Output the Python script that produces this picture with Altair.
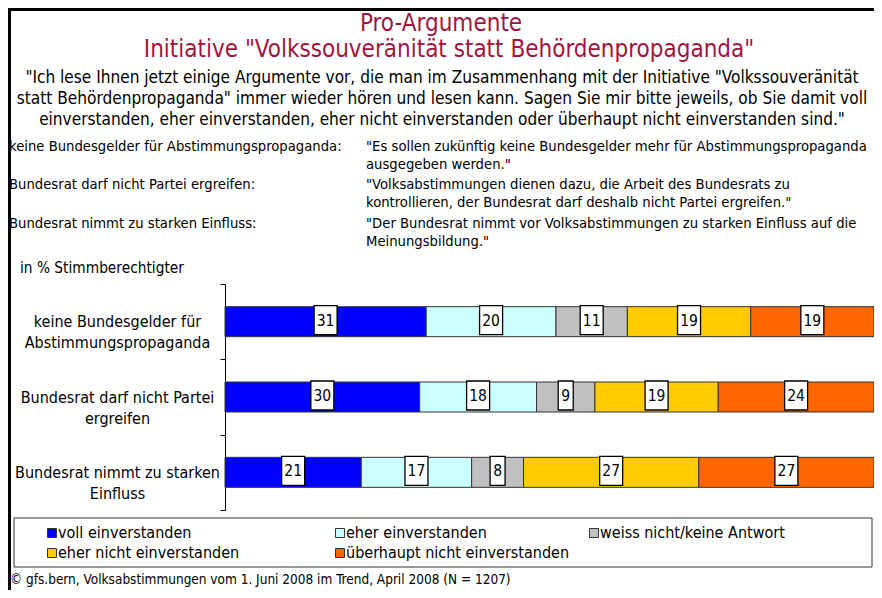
import altair as alt
import pandas as pd

# ---------------- data ----------------
categories = [
    "keine Bundesgelder für|Abstimmungspropaganda",
    "Bundesrat darf nicht Partei|ergreifen",
    "Bundesrat nimmt zu starken|Einfluss",
]
answers = [
    "voll einverstanden",
    "eher einverstanden",
    "weiss nicht/keine Antwort",
    "eher nicht einverstanden",
    "überhaupt nicht einverstanden",
]
colors = ["#0000FF", "#CCFFFF", "#C0C0C0", "#FFCC00", "#FF6600"]
voll = [31, 30, 21]
eher = [20, 18, 17]
weiss = [11, 9, 8]
eher_nicht = [19, 19, 27]
ueberhaupt = [19, 24, 27]

series = [voll, eher, weiss, eher_nicht, ueberhaupt]
rows = []
for ai, (ans, vals) in enumerate(zip(answers, series)):
    for ci, cat in enumerate(categories):
        rows.append({"cat": cat, "answer": ans, "value": vals[ci], "order": ai})
df = pd.DataFrame(rows)

title1 = "Pro-Argumente"
title2 = 'Initiative "Volkssouveränität statt Behördenpropaganda"'
quote = [
    '"Ich lese Ihnen jetzt einige Argumente vor, die man im Zusammenhang mit der Initiative "Volkssouveränität',
    'statt Behördenpropaganda" immer wieder hören und lesen kann. Sagen Sie mir bitte jeweils, ob Sie damit voll',
    'einverstanden, eher einverstanden, eher nicht einverstanden oder überhaupt nicht einverstanden sind."',
]
arg_names = [
    "keine Bundesgelder für Abstimmungspropaganda:",
    "Bundesrat darf nicht Partei ergreifen:",
    "Bundesrat nimmt zu starken Einfluss:",
]
arg_texts = [
    ['"Es sollen zukünftig keine Bundesgelder mehr für Abstimmungspropaganda', 'ausgegeben werden."'],
    ['"Volksabstimmungen dienen dazu, die Arbeit des Bundesrats zu',
     'kontrollieren, der Bundesrat darf deshalb nicht Partei ergreifen."'],
    ['"Der Bundesrat nimmt vor Volksabstimmungen zu starken Einfluss auf die', 'Meinungsbildung."'],
]
unit_note = "in % Stimmberechtigter"
footer = "© gfs.bern, Volksabstimmungen vom 1. Juni 2008 im Trend, April 2008 (N = 1207)"

# ---------------- layout ----------------
F = "DejaVu Sans Condensed, DejaVu Sans"
TITLE_COLOR = "#A3143C"
X0, Y0 = 225, 284          # page position of plot origin
TOTAL_W, TOTAL_H = 866, 582
PW, PH = 8 + TOTAL_W - X0, 226


def px(x):
    return x - X0


def py(y):
    return y - Y0


dummy = pd.DataFrame({"d": [0]})


def txt(s, x, y, size, color="black", align="left"):
    return alt.Chart(dummy).mark_text(
        align=align, baseline="middle", font=F, fontSize=size, color=color
    ).encode(x=alt.value(px(x)), y=alt.value(py(y)), text=alt.value(s))


base = alt.Chart(df).transform_stack(
    stack="value", groupby=["cat"], as_=["v0", "v1"],
    sort=[alt.SortField("order", order="ascending")],
).transform_calculate(mid="(datum.v0 + datum.v1) / 2")

xscale = alt.Scale(domain=[0, 100], nice=False, zero=True)
yenc = alt.Y(
    "cat:N", sort=categories,
    scale=alt.Scale(paddingInner=0, paddingOuter=0),
    axis=alt.Axis(
        title=None, labelExpr="split(datum.label, '|')", tickBand="extent",
        tickSize=5, tickColor="black", domainColor="black", domainWidth=1,
        labelFont=F, labelFontSize=16, labelColor="black", labelAlign="center",
        labelPadding=103, labelLineHeight=21, labelBaseline="middle", labelLimit=300,
    ),
)

bars = base.mark_bar(size=30, stroke="#333333", strokeWidth=1).encode(
    x=alt.X("v0:Q", scale=xscale, axis=None),
    x2="v1:Q",
    y=yenc,
    color=alt.Color("answer:N", scale=alt.Scale(domain=answers, range=colors), legend=None),
)

P1 = "M-7.5,-14.5L7.5,-14.5L7.5,14.5L-7.5,14.5Z"
P2 = "M-11.5,-14.5L11.5,-14.5L11.5,14.5L-11.5,14.5Z"
boxes = base.mark_point(
    filled=True, fill="white", stroke="black", strokeWidth=1.3, opacity=1, size=4, yOffset=-1.5
).encode(
    x=alt.X("mid:Q", scale=xscale),
    y=alt.Y("cat:N", sort=categories),
    shape=alt.condition("datum.value < 10", alt.value(P1), alt.value(P2)),
)
vals = base.mark_text(font=F, fontSize=15.5, color="black", baseline="middle", yOffset=-1).encode(
    x=alt.X("mid:Q", scale=xscale),
    y=alt.Y("cat:N", sort=categories),
    text="value:Q",
)

layers = [bars, boxes, vals]

# frame
layers.append(alt.Chart(dummy).mark_rule(color="black", strokeWidth=3).encode(
    x=alt.value(px(8)), x2=alt.value(px(8 + TOTAL_W)), y=alt.value(py(9.5))))
layers.append(alt.Chart(dummy).mark_rule(color="black", strokeWidth=3).encode(
    x=alt.value(px(9.5)), y=alt.value(py(8)), y2=alt.value(py(600))))

# titles and texts
layers.append(txt(title1, 441, 24, 24, TITLE_COLOR, "center"))
layers.append(txt(title2, 449, 50, 24, TITLE_COLOR, "center"))
for i, line in enumerate(quote):
    layers.append(txt(line, 442, 78 + 21 * i, 17.1, "black", "center"))
arg_y = [147, 185, 224]
for name, lines, y in zip(arg_names, arg_texts, arg_y):
    layers.append(txt(name, 9, y, 14.7))
    layers.append(txt(lines[0], 366, y, 14.7))
    layers.append(txt(lines[1], 366, y + 18, 14.7))
layers.append(txt(unit_note, 20, 268, 15.3))
layers.append(txt(footer, 10, 580, 13.5))

# legend
layers.append(alt.Chart(dummy).mark_rect(fillOpacity=0, stroke="#333333", strokeWidth=1).encode(
    x=alt.value(px(14)), x2=alt.value(px(872)), y=alt.value(py(518)), y2=alt.value(py(567))))
leg_cols = [52, 340, 594]
leg_rows = [533, 553]
for i, (ans, col) in enumerate(zip(answers, colors)):
    lx = leg_cols[i % 3]
    ly = leg_rows[i // 3]
    layers.append(alt.Chart(dummy).mark_point(
        shape="square", filled=True, fill=col, stroke="#333333", strokeWidth=1, size=81, opacity=1
    ).encode(x=alt.value(px(lx)), y=alt.value(py(ly))))
    layers.append(txt(ans, lx + 6, ly, 16))

chart = alt.layer(*layers).properties(
    width=PW, height=PH,
    autosize=alt.AutoSizeParams(type="none"),
    padding={"left": X0 - 8, "top": Y0 - 8, "right": TOTAL_W - (X0 - 8) - PW,
             "bottom": TOTAL_H - (Y0 - 8) - PH},
).configure_view(stroke=None)

chart.save("out.html", embed_options={"renderer": "svg", "actions": False})
